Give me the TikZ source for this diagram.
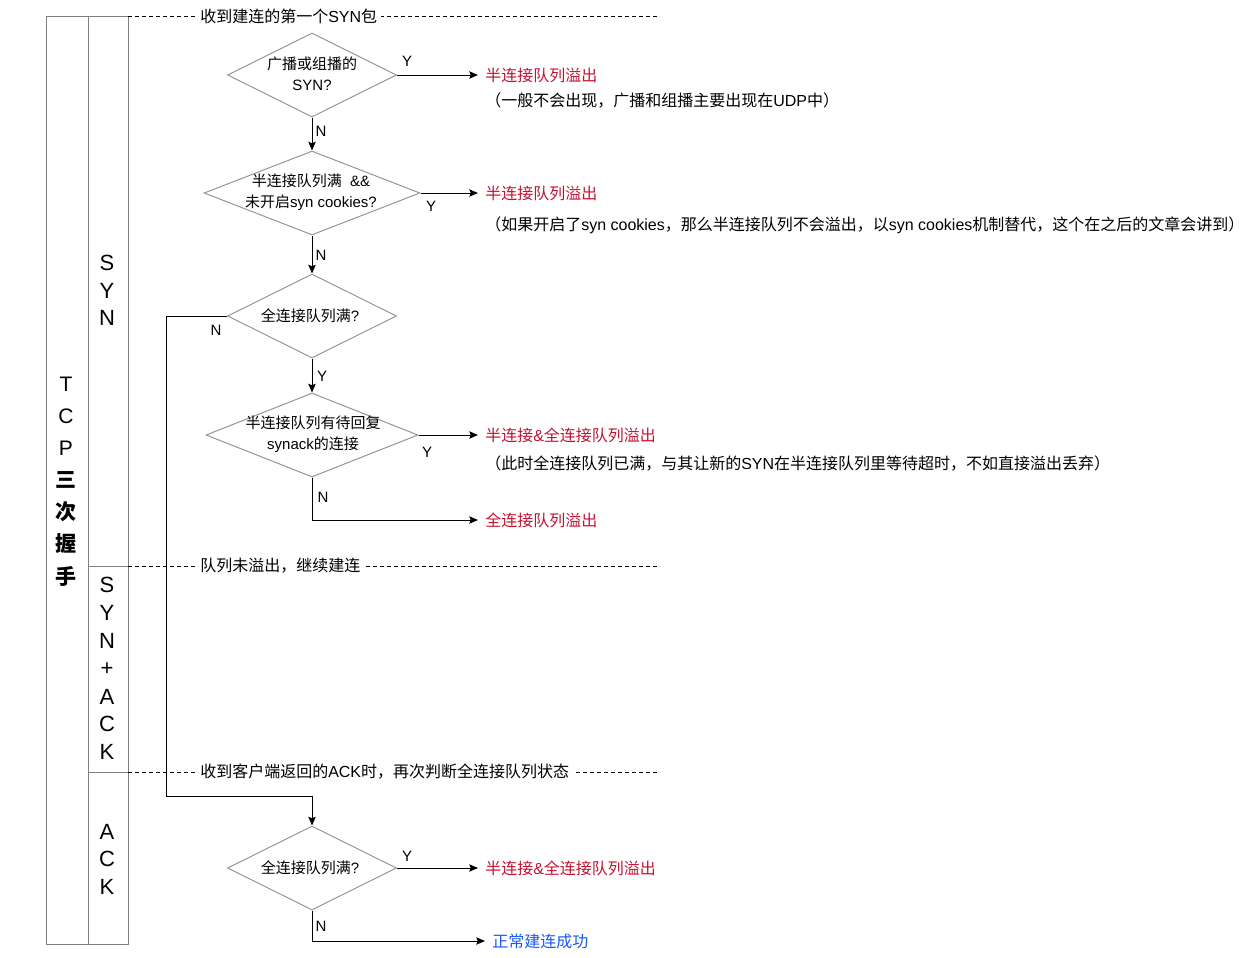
\documentclass[tikz,border=0pt]{standalone}
\usepackage{fontspec}
\setmainfont{Noto Sans CJK SC}
\newfontfamily\latfont{Liberation Sans}
\usetikzlibrary{shapes.geometric,arrows.meta}

\definecolor{overflow}{RGB}{196,18,48}
\definecolor{success}{RGB}{22,88,255}
\definecolor{lanegray}{RGB}{128,128,128}
\definecolor{rimgray}{RGB}{150,150,150}

\begin{document}
\begin{tikzpicture}[x=0.75pt,y=-0.75pt,
    lane/.style={draw=lanegray,line width=0.75pt},
    phaseline/.style={line width=0.75pt,dash pattern=on 3pt off 2.25pt},
    phase/.style={anchor=west,fill=white,inner xsep=3pt,inner ysep=1pt,font=\fontsize{12}{14}\selectfont},
    lanetext/.style={inner sep=0pt,font=\fontsize{16.5}{18}\selectfont\latfont},
    tcptext/.style={inner sep=0pt,font=\fontsize{15.75}{17}\selectfont},
    decision/.style={draw=rimgray,shape=diamond,inner sep=0pt,line width=0.75pt},
    dtext/.style={align=center,inner sep=0pt,font=\fontsize{11.25}{15.75}\selectfont},
    yn/.style={inner sep=0pt,font=\fontsize{11.25}{13}\selectfont\latfont},
    result/.style={anchor=west,inner xsep=5.25pt,inner ysep=0pt,text=overflow,font=\fontsize{12}{14}\selectfont},
    note/.style={anchor=west,inner xsep=5.25pt,inner ysep=0pt,font=\fontsize{12}{14}\selectfont},
    flow/.style={line width=0.75pt,-{Stealth[length=6.5pt,width=5.5pt,inset=1pt]}}
    ]
    \useasboundingbox (0,0) rectangle (1251,957);

    % lanes
    \draw[lane] (46,16) rectangle (88,944);
    \draw[lane] (88,16) rectangle (128,944);
    \draw[lane] (88,566) -- (128,566);
    \draw[lane] (88,772) -- (128,772);

    \foreach \ch/\y in {T/384,C/416,P/448}
        \node[tcptext] (tcp\ch) at (66,\y) {\latfont\ch};
    \foreach \ch/\y [count=\i] in {三/480,次/512,握/544,手/576}
        \node[tcptext] (hs\i) at (66,\y) {\bfseries\ch};

    \foreach \ch/\y [count=\i] in {S/263,Y/291,N/318}
        \node[lanetext] (syn\i) at (107,\y) {\ch};
    \foreach \ch/\y [count=\i] in {S/585,Y/613,N/641,+/669,A/697,C/724,K/752}
        \node[lanetext] (synack\i) at (107,\y) {\ch};
    \foreach \ch/\y [count=\i] in {A/832,C/859,K/887}
        \node[lanetext] (ack\i) at (107,\y) {\ch};

    % phases
    \draw[phaseline] (128,16) -- (660,16);
    \node[phase] (ph1) at (196,16) {收到建连的第一个{\latfont SYN}包};
    \draw[phaseline] (128,566) -- (660,566);
    \node[phase] (ph2) at (196,566) {队列未溢出，继续建连};
    \draw[phaseline] (128,772) -- (660,772);
    \node[phase] (ph3) at (196,772) {收到客户端返回的{\latfont ACK}时，再次判断全连接队列状态};

    % decisions
    \node[decision,minimum width=126.75pt,minimum height=63pt] (d1) at (312,75) {};
    \node[dtext] (d1t) at (312,74) {广播或组播的\\{\latfont SYN?}};
    \node[decision,minimum width=162pt,minimum height=63pt] (d2) at (312,193) {};
    \node[dtext] (d2t) at (311,192) {半连接队列满{\latfont\ \ \&\&}\\未开启{\latfont syn cookies?}};
    \node[decision,minimum width=126.75pt,minimum height=63pt] (d3) at (312,316) {};
    \node[dtext] (d3t) at (310,316) {全连接队列满{\latfont ?}};
    \node[decision,minimum width=159pt,minimum height=63pt] (d4) at (312,435) {};
    \node[dtext] (d4t) at (313,434) {半连接队列有待回复\\{\latfont synack}的连接};
    \node[decision,minimum width=126.75pt,minimum height=63pt] (d5) at (312,868) {};
    \node[dtext] (d5t) at (310,868) {全连接队列满{\latfont ?}};

    % outcomes
    \node[result] (r1) at (478,75) {半连接队列溢出};
    \node[note] (n1) at (478,101) {（一般不会出现，广播和组播主要出现在{\latfont UDP}中）};
    \node[result] (r2) at (478,193) {半连接队列溢出};
    \node[note] (n2) at (478,225) {（如果开启了{\latfont syn cookies}，那么半连接队列不会溢出，以{\latfont syn cookies}机制替代，这个在之后的文章会讲到）};
    \node[result] (r3) at (478,435) {半连接{\latfont\&}全连接队列溢出};
    \node[note] (n3) at (478,463) {（此时全连接队列已满，与其让新的{\latfont SYN}在半连接队列里等待超时，不如直接溢出丢弃）};
    \node[result] (r4) at (478,520) {全连接队列溢出};
    \node[result] (r5) at (478,868) {半连接{\latfont\&}全连接队列溢出};
    \node[result,text=success] (ok) at (485,941) {正常建连成功};

    % connectors
    \coordinate (bypass) at (166,796);
    \draw[flow] (d1.east) -- (r1.west);
    \draw[flow] (d1.south) -- (d2.north);
    \draw[flow] (d2.east) -- (r2.west);
    \draw[flow] (d2.south) -- (d3.north);
    \draw[flow] (d3.west) -| (bypass) -| (d5.north);
    \draw[flow] (d3.south) -- (d4.north);
    \draw[flow] (d4.east) -- (r3.west);
    \draw[flow] (d4.south) |- (r4.west);
    \draw[flow] (d5.east) -- (r5.west);
    \draw[flow] (d5.south) |- (ok.west);

    \node[yn] (y1) at (407,61) {Y};
    \node[yn] (n1l) at (321,131) {N};
    \node[yn] (y2) at (431,206) {Y};
    \node[yn] (n2l) at (321,255) {N};
    \node[yn] (n3l) at (216,330) {N};
    \node[yn] (y3) at (322,376) {Y};
    \node[yn] (y4) at (427,452) {Y};
    \node[yn] (n4l) at (323,497) {N};
    \node[yn] (y5) at (407,856) {Y};
    \node[yn] (n5l) at (321,926) {N};

\end{tikzpicture}
\end{document}
